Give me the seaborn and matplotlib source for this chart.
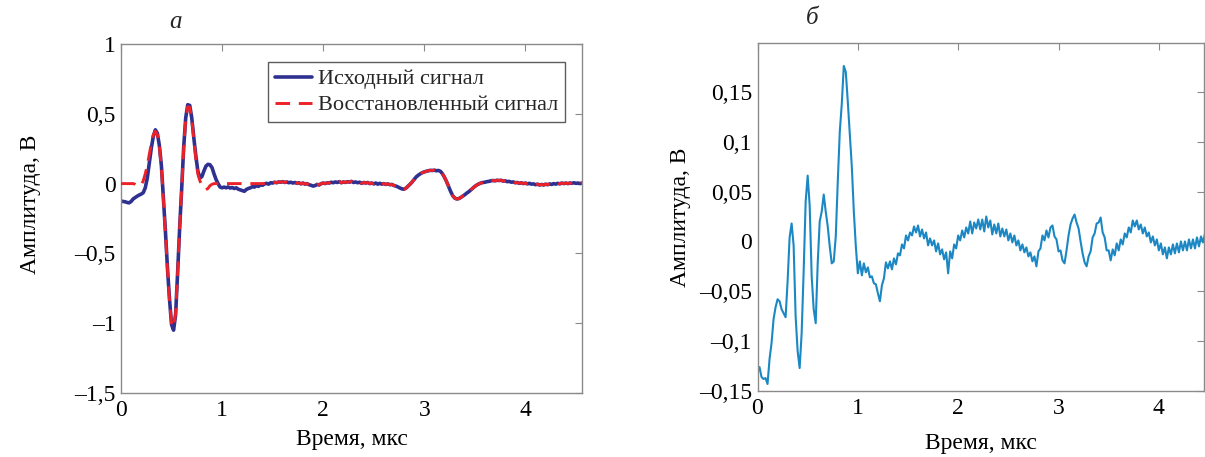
import numpy as np
import pandas as pd
import matplotlib
matplotlib.use("Agg")
import matplotlib.pyplot as plt
import seaborn as sns
from matplotlib.lines import Line2D

# ---------------- data ----------------
STEP = 0.02  # sampling step, µs

# panel a: original signal, V
orig_a = [
    -0.125, -0.128, -0.130, -0.135, -0.138, -0.128, -0.110, -0.100, -0.090, -0.082,
    -0.075, -0.065, -0.030, 0.040, 0.150, 0.255, 0.340, 0.385, 0.360, 0.270,
    0.124, -0.110, -0.350, -0.610, -0.830, -1.010, -1.050, -0.940, -0.640, -0.320,
    -0.040, 0.260, 0.470, 0.565, 0.560, 0.470, 0.330, 0.200, 0.090, 0.040,
    0.050, 0.090, 0.125, 0.138, 0.135, 0.115, 0.070, 0.030, 0.000, -0.025,
    -0.030, -0.025, -0.030, -0.024, -0.032, -0.028, -0.035, -0.030, -0.040, -0.045,
    -0.050, -0.055, -0.042, -0.035, -0.030, -0.022, -0.025, -0.015, -0.020, -0.008,
    -0.012, -0.002, 0.002, -0.004, 0.006, 0.004, 0.010, 0.006, 0.012, 0.010,
    0.014, 0.008, 0.012, 0.006, 0.010, 0.004, 0.008, 0.002, 0.006, -0.002,
    0.004, -0.004, 0.000, -0.008, -0.012, -0.018, -0.014, -0.006, -0.010, 0.000,
    0.004, 0.000, 0.006, 0.004, 0.010, 0.006, 0.012, 0.008, 0.014, 0.006,
    0.012, 0.008, 0.014, 0.010, 0.016, 0.008, 0.012, 0.006, 0.010, 0.002,
    0.008, 0.004, 0.008, 0.000, 0.004, -0.002, 0.004, -0.004, 0.002, -0.004,
    0.000, -0.006, -0.002, -0.008, -0.006, -0.014, -0.018, -0.024, -0.032, -0.038,
    -0.040, -0.032, -0.018, -0.004, 0.012, 0.030, 0.048, 0.060, 0.070, 0.078,
    0.084, 0.088, 0.092, 0.095, 0.094, 0.096, 0.092, 0.094, 0.088, 0.070,
    0.045, 0.015, -0.020, -0.055, -0.085, -0.103, -0.110, -0.108, -0.100, -0.090,
    -0.080, -0.068, -0.058, -0.045, -0.032, -0.020, -0.010, -0.002, 0.004, 0.008,
    0.010, 0.014, 0.016, 0.020, 0.022, 0.020, 0.024, 0.022, 0.024, 0.018,
    0.020, 0.014, 0.016, 0.010, 0.012, 0.006, 0.008, 0.002, 0.006, 0.000,
    0.004, -0.002, 0.002, -0.004, -0.002, -0.008, -0.004, -0.010, -0.006, -0.010,
    -0.004, -0.008, -0.002, -0.006, 0.000, -0.004, 0.002, -0.002, 0.004, 0.000,
    0.004, 0.000, 0.004, 0.002, 0.006, 0.002, 0.004, 0.000, 0.004,
]

# panel a: reconstructed signal for t < 1.4 µs (beyond that it lies on the original)
recon_a_head = [
    0.0, 0.0, 0.0, 0.0, 0.0, 0.0, 0.0,
    -0.005, -0.015, -0.020, -0.010,
    0.020, 0.070, 0.130, 0.210, 0.290, 0.350, 0.375, 0.350, 0.260, 0.110,
    -0.120, -0.360, -0.620, -0.840, -1.000, -1.030, -0.930, -0.640, -0.320, -0.040,
    0.250, 0.460, 0.550, 0.545, 0.460, 0.320, 0.180, 0.070, 0.020, -0.010,
    -0.035, -0.043, -0.035, -0.015, -0.005, 0.000,
    0.0, 0.0, 0.0, 0.0, 0.0, 0.0, 0.0, 0.0, 0.0, 0.0, 0.0, 0.0,
    0.0, 0.0, 0.0, 0.0, 0.0, 0.0, 0.0, 0.0, 0.0, 0.0, 0.0, 0.0, 0.0, 0.0, 0.0,
]

# panel b: signal, V
sig_b = [
    -0.132, -0.126, -0.136, -0.138, -0.137, -0.143, -0.118, -0.102, -0.078, -0.066,
    -0.058, -0.060, -0.068, -0.072, -0.076, -0.040, 0.004, 0.018, -0.004, -0.075,
    -0.110, -0.127, -0.092, -0.030, 0.040, 0.066, 0.036, -0.035, -0.068, -0.082,
    -0.022, 0.020, 0.030, 0.047, 0.030, 0.015, -0.005, -0.022, -0.020, 0.005,
    0.060, 0.110, 0.138, 0.176, 0.170, 0.140, 0.108, 0.075, 0.030, -0.005,
    -0.032, -0.020, -0.034, -0.022, -0.031, -0.026, -0.036, -0.035, -0.042, -0.043,
    -0.052, -0.060, -0.044, -0.037, -0.021, -0.027, -0.020, -0.028, -0.017, -0.023,
    -0.012, -0.014, -0.003, -0.007, 0.006, 0.001, 0.009, 0.006, 0.015, 0.009,
    0.016, 0.005, 0.012, 0.003, 0.009, -0.004, 0.003, -0.004, 0.001, -0.010,
    -0.002, -0.013, -0.008, -0.018, -0.011, -0.032, -0.010, -0.017, -0.003, -0.007,
    0.006, 0.001, 0.011, 0.004, 0.014, 0.008, 0.020, 0.008, 0.019, 0.013,
    0.022, 0.012, 0.022, 0.010, 0.025, 0.014, 0.021, 0.007, 0.017, 0.008,
    0.018, 0.005, 0.013, 0.005, 0.012, 0.001, 0.008, -0.001, 0.006, -0.004,
    0.001, -0.009, -0.003, -0.011, -0.006, -0.015, -0.011, -0.020, -0.015, -0.025,
    -0.010, -0.007, 0.006, 0.001, 0.011, 0.004, 0.014, 0.016, 0.005, 0.002,
    -0.010, -0.009, -0.019, -0.022, -0.009, 0.006, 0.017, 0.023, 0.027, 0.019,
    0.013, 0.000, -0.012, -0.021, -0.025, -0.015, -0.010, 0.004, 0.008, 0.018,
    0.019, 0.024, 0.009, 0.004, -0.009, -0.009, -0.019, -0.008, -0.014, -0.002,
    -0.009, 0.002, -0.003, 0.008, 0.004, 0.014, 0.009, 0.021, 0.015, 0.021,
    0.012, 0.017, 0.008, 0.014, 0.005, 0.009, -0.001, 0.005, -0.004, 0.002,
    -0.009, -0.002, -0.013, -0.006, -0.017, -0.006, -0.013, -0.003, -0.012, -0.002,
    -0.011, 0.000, -0.009, 0.000, -0.009, 0.002, -0.007, 0.002, -0.007, 0.004,
    -0.005, 0.005, -0.001, 0.008,
]

yticks_a = [-1.5, -1.0, -0.5, 0.0, 0.5, 1.0]
yticklabels_a = ["\u20131,5", "\u20131", "\u20130,5", "0", "0,5", "1"]
yticks_b = [-0.15, -0.10, -0.05, 0.0, 0.05, 0.10, 0.15]
yticklabels_b = ["\u20130,15", "\u20130,1", "\u20130,05", "0", "0,05", "0,1", "0,15"]
xticks = [0, 1, 2, 3, 4]
xticklabels = ["0", "1", "2", "3", "4"]
legend_labels = ["Исходный сигнал", "Восстановленный сигнал"]
xlabel = "Время, мкс"
ylabel = "Амплитуда, В"

# ---------------- build frames ----------------
t_a = np.round(np.arange(len(orig_a)) * STEP, 2)
recon_a = np.concatenate([recon_a_head, np.array(orig_a)[len(recon_a_head):]])
df_a = pd.DataFrame({"t": t_a, "orig": orig_a, "recon": recon_a})
t_b = np.round(np.arange(len(sig_b)) * STEP, 2)
df_b = pd.DataFrame({"t": t_b, "sig": sig_b})

# ---------------- style ----------------
sns.set_theme(style="white")
plt.rcParams["font.family"] = ["Liberation Serif", "DejaVu Serif"]
plt.rcParams["axes.unicode_minus"] = False
FS = 17
LFS = 16
BLUE = "#2f3191"
RED = "#ec2228"
CYAN = "#1b88c4"
FRAME = "#8a8a8a"
DASH = (0, (5, 3))

fig = plt.figure(figsize=(12.05, 4.57), dpi=100)
W, H = 1205, 457
ax1 = fig.add_axes([121 / W, 1 - 393 / H, (582 - 121) / W, (393 - 44) / H])
ax2 = fig.add_axes([757.5 / W, 1 - 391 / H, (1204 - 757.5) / W, (391 - 43) / H])

sns.lineplot(data=df_a, x="t", y="orig", ax=ax1, color=BLUE, linewidth=2.6, zorder=2)
sns.lineplot(data=df_a, x="t", y="recon", ax=ax1, color=RED, linewidth=2.1,
             linestyle=DASH, zorder=3)
sns.lineplot(data=df_b, x="t", y="sig", ax=ax2, color=CYAN, linewidth=1.5)

for ax, yt, ytl, xmax, ylim in [
    (ax1, yticks_a, yticklabels_a, 4.56, (-1.5, 1.0)),
    (ax2, yticks_b, yticklabels_b, 4.45, (-0.15, 0.199)),
]:
    ax.set_xlim(0, xmax)
    ax.set_ylim(*ylim)
    ax.set_xticks(xticks)
    ax.set_xticklabels(xticklabels)
    ax.set_yticks(yt)
    ax.set_yticklabels(ytl)
    ax.tick_params(direction="in", length=5, width=0.8, color=FRAME,
                   top=True, right=True, labelsize=FS, labelcolor="black")
    ax.tick_params(axis="x", pad=5)
    ax.tick_params(axis="y", pad=4)
    for s in ax.spines.values():
        s.set_color(FRAME)
        s.set_linewidth(1.0)
    ax.set_xlabel(xlabel, fontsize=FS, color="black")
    ax.set_ylabel(ylabel, fontsize=FS, color="black")
    ax.grid(False)

ax1.xaxis.set_label_coords(0.5, -0.103)
ax2.xaxis.set_label_coords(0.5, -0.121)
ax1.yaxis.set_label_coords(-0.174, 0.54)
ax2.yaxis.set_label_coords(-0.149, 0.5)

handles = [Line2D([], [], color=BLUE, linewidth=2.6),
           Line2D([], [], color=RED, linewidth=2.1, linestyle=DASH)]
leg = ax1.legend(handles, legend_labels, loc="upper right", bbox_to_anchor=(0.963, 0.948),
                 fontsize=LFS, frameon=True, fancybox=False, handlelength=1.7,
                 handletextpad=0.25, borderpad=0.3, borderaxespad=0,
                 labelspacing=0.25)
leg.get_frame().set_edgecolor("#333333")
leg.get_frame().set_linewidth(1.0)

fig.text(175 / W, 1 - 22 / H, "а", fontsize=18, style="italic", ha="center", va="center")
fig.text(812 / W, 1 - 18 / H, "б", fontsize=18, style="italic", ha="center", va="center")

fig.savefig("out.png", dpi=100)
